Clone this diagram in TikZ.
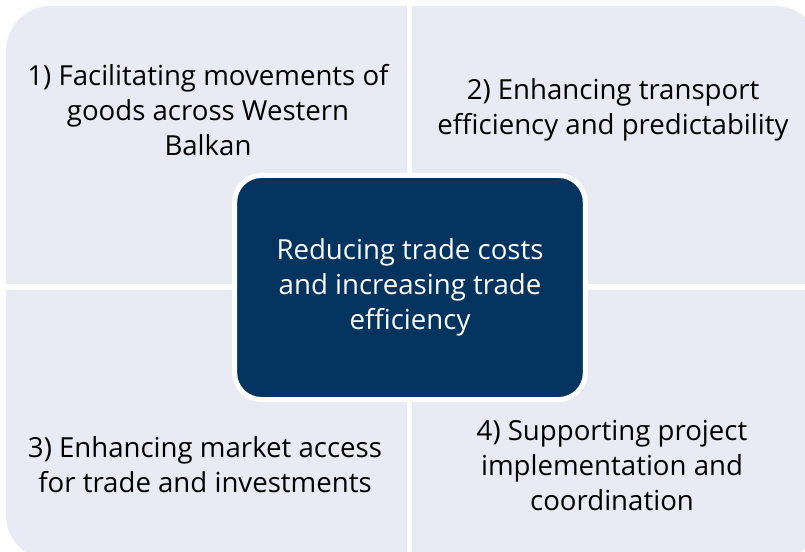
\documentclass[tikz,border=0pt]{standalone}
\usepackage{fontspec}
\setmainfont{Open Sans}
\definecolor{quadfill}{HTML}{E8EBF4}
\definecolor{navy}{HTML}{03335F}
\begin{document}
\begin{tikzpicture}[x=0.75pt,y=-0.75pt,
  quadtext/.style={align=center,font=\fontsize{20.7}{26.25}\selectfont,text=black,inner sep=0pt},
  hubbox/.style={rectangle,rounded corners=20pt,fill=navy,draw=white,line width=3.75pt,
    minimum width=263pt,minimum height=168pt,align=center,text=white,
    font=\fontsize{20.7}{26.25}\selectfont,inner sep=0pt}]
\useasboundingbox (0,0) rectangle (805,552);
\begin{scope}
\clip (0,0) rectangle (805,552);
% light background split into four quadrants by white gaps
\fill[quadfill,rounded corners=33.75pt] (6,6) rectangle (820,560);
\fill[white] (407,0) rectangle (412,552);
\fill[white] (0,284) rectangle (805,290);
\end{scope}
% quadrant labels
\node[quadtext] (q1) at (208,110) {1) Facilitating movements of\\goods across Western\\Balkan};
\node[quadtext] (q2) at (613,110) {2) Enhancing transport\\efficiency and predictability};
\node[quadtext] (q3) at (205,465) {3) Enhancing market access\\for trade and investments};
\node[quadtext] (q4) at (612,466) {4) Supporting project\\implementation and\\coordination};
% central goal
\node[hubbox] (hub) at (410,287.5) {Reducing trade costs\\and increasing trade\\efficiency};
\end{tikzpicture}
\end{document}
